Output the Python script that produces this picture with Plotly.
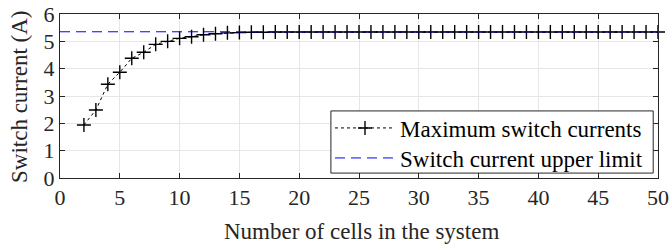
import plotly.graph_objects as go

cells = list(range(2, 51))
max_currents = [1.94, 2.49, 3.43, 3.87, 4.38, 4.60, 4.89, 5.00, 5.11, 5.17,
                5.24, 5.28, 5.31, 5.32, 5.33, 5.335, 5.34, 5.34, 5.34, 5.34,
                5.34, 5.34, 5.34, 5.34, 5.34, 5.34, 5.34, 5.34, 5.34, 5.34,
                5.34, 5.34, 5.34, 5.34, 5.34, 5.34, 5.34, 5.34, 5.34, 5.34,
                5.34, 5.34, 5.34, 5.34, 5.34, 5.34, 5.34, 5.34, 5.34]
limit_x = [0, 50]
limit_y = [5.35, 5.35]
x_ticks = [0, 5, 10, 15, 20, 25, 30, 35, 40, 45, 50]
y_ticks = [0, 1, 2, 3, 4, 5, 6]
x_title = "Number of cells in the system"
y_title = "Switch current (A)"

FONT = "'Liberation Serif', 'Times New Roman', serif"

fig = go.Figure()
fig.add_trace(go.Scatter(
    x=cells, y=max_currents, mode="lines+markers",
    name="Maximum switch currents", cliponaxis=False, legend="legend",
    line=dict(color="black", width=1, dash="dot"),
    marker=dict(symbol="cross-thin-open", size=10, color="black",
                line=dict(color="black", width=1.4)),
))
fig.add_trace(go.Scatter(
    x=limit_x, y=limit_y, mode="lines",
    name="Switch current upper limit", legend="legend2",
    line=dict(color="#0000ff", width=1, dash="10px,6px"),
))

axis_common = dict(
    showline=True, linecolor="#262626", linewidth=1, mirror="ticks",
    ticks="inside", ticklen=5, tickcolor="#262626",
    showgrid=True, gridcolor="#e6e6e6", gridwidth=1, zeroline=False,
    automargin=False,
    tickfont=dict(family=FONT, size=22, color="#262626"),
)

fig.update_xaxes(range=[0, 50], tickvals=x_ticks, **axis_common)
fig.update_yaxes(range=[0, 6], tickvals=y_ticks, **axis_common)

# axis titles
fig.add_annotation(text=x_title, xref="paper", yref="paper",
                   x=0.505, y=-0.329, xanchor="center", yanchor="middle",
                   showarrow=False,
                   font=dict(family=FONT, size=23, color="#262626"))
fig.add_annotation(text=y_title, xref="paper", yref="paper",
                   x=-0.0669, y=0.494, xanchor="center", yanchor="middle",
                   textangle=-90, showarrow=False,
                   font=dict(family=FONT, size=23, color="#262626"))

# legend frame
fig.add_shape(type="rect", xref="x domain", yref="y domain",
              x0=0.453, x1=0.992, y0=0.030, y1=0.409,
              line=dict(color="#262626", width=1), fillcolor="white",
              layer="above")

leg_common = dict(
    xanchor="left", yanchor="middle",
    bgcolor="rgba(0,0,0,0)", borderwidth=0,
    font=dict(family=FONT, size=23, color="black"),
    itemwidth=60,
)

fig.update_layout(
    width=669, height=251,
    margin=dict(l=60, r=11, t=14, b=73),
    paper_bgcolor="white", plot_bgcolor="white",
    font=dict(family=FONT, size=23, color="black"),
    showlegend=True,
    legend=dict(x=0.4515, y=0.305, **leg_common),
    legend2=dict(x=0.4515, y=0.122, **leg_common),
)

fig.write_html("out.html", config={"displayModeBar": False},
               post_script="document.body.style.margin='0';")
